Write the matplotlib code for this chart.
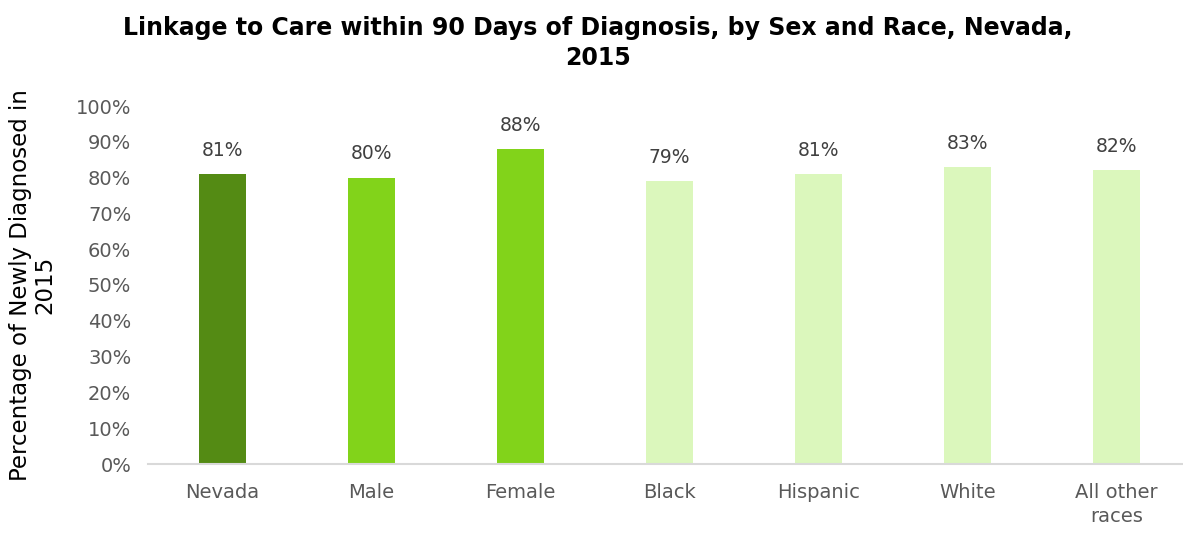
import matplotlib

matplotlib.use('Agg')
import matplotlib.pyplot as plt
from matplotlib.ticker import MultipleLocator, FuncFormatter

categories = ['Nevada', 'Male', 'Female', 'Black', 'Hispanic', 'White', 'All other\nraces']
values = [81, 80, 88, 79, 81, 83, 82]
colors = ['#548B14', '#82D31A', '#82D31A', '#DBF7BC', '#DBF7BC', '#DBF7BC', '#DBF7BC']

fig = plt.figure(figsize=[11.83, 5.33], dpi=100)
ax = fig.add_axes([148 / 1183, 1 - 464 / 533, 1035 / 1183, 358 / 533])

x = list(range(len(categories)))
ax.bar(x, values, width=0.32, color=colors, zorder=2)
for xi, v in zip(x, values):
    ax.text(xi, v + 4, '%d%%' % v, ha='center', va='bottom', fontsize=13.5,
            color='#404040')

ax.set_ylim(0, 100)
ax.set_xlim(-0.5, -0.5 + 1035 / 149)
ax.yaxis.set_major_locator(MultipleLocator(10))
ax.yaxis.set_major_formatter(FuncFormatter(lambda v, p: '%d%%' % v))
ax.set_xticks(x)
ax.set_xticklabels(categories, fontsize=14, color='#595959', linespacing=1.3)
for lab in ax.get_yticklabels():
    lab.set_fontsize(14)
    lab.set_color('#595959')
ax.tick_params(axis='both', length=0)
ax.tick_params(axis='x', pad=14)
ax.tick_params(axis='y', pad=12)
for s in ['top', 'right', 'left']:
    ax.spines[s].set_visible(False)
ax.spines['bottom'].set_color('#D9D9D9')
ax.spines['bottom'].set_linewidth(1.5)

ax.set_ylabel('Percentage of Newly Diagnosed in\n2015', fontsize=16.5, color='black',
              linespacing=1.05, labelpad=14)

fig.text(598 / 1183, 1 - 43 / 533,
         'Linkage to Care within 90 Days of Diagnosis, by Sex and Race, Nevada,\n2015',
         ha='center', va='center', fontsize=17, fontweight='bold', linespacing=1.35)

fig.savefig('out.png')
